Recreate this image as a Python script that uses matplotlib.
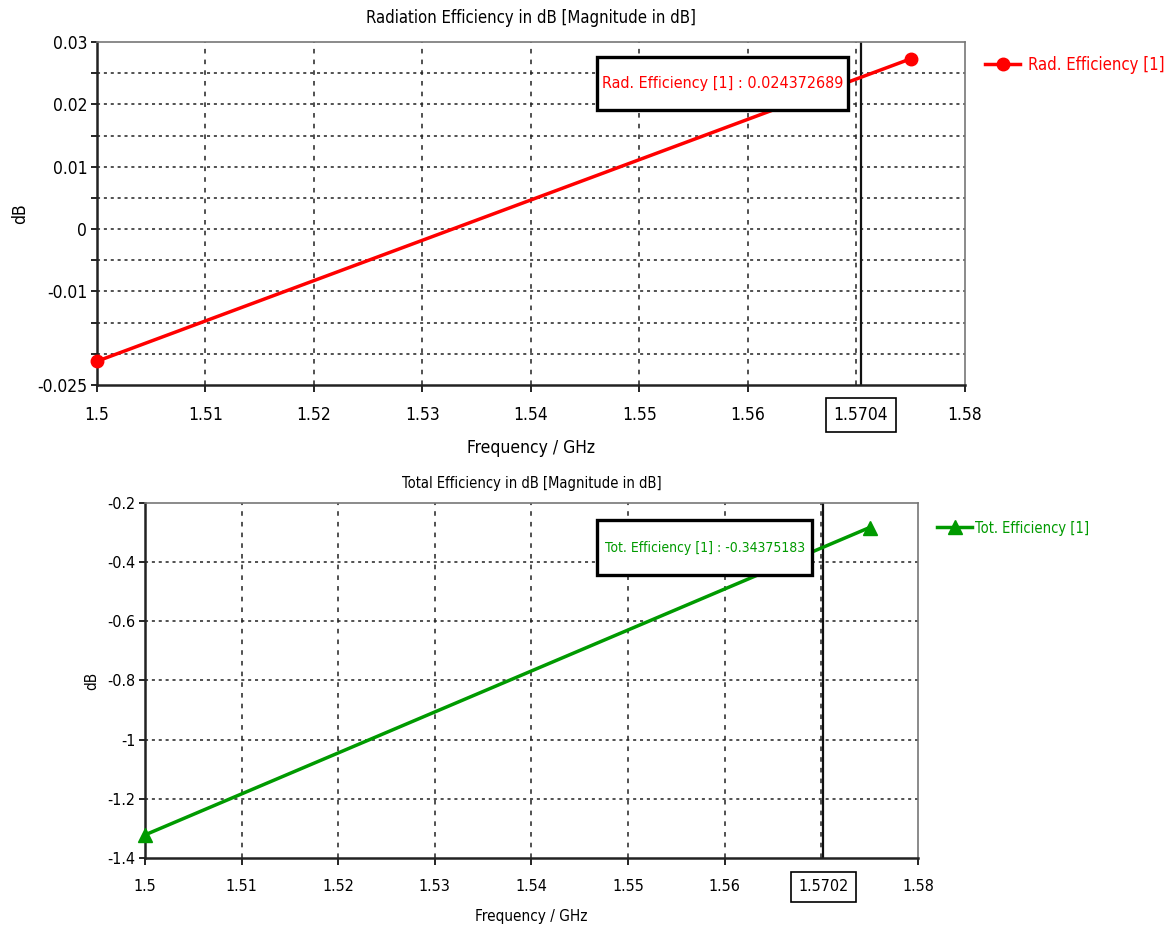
import numpy as np
import matplotlib
matplotlib.use("Agg")
import matplotlib.pyplot as plt
from matplotlib.patches import Rectangle
from matplotlib.ticker import MultipleLocator

plt.rcParams['font.family'] = ['DejaVu Sans']
plt.rcParams['font.stretch'] = 'condensed'

# data
freq = [1.5, 1.575]
rad_eff = [-0.0212, 0.0273]
tot_eff = [-1.322, -0.283]

rad_cursor = 1.5704
rad_cursor_val = "0.024372689"
tot_cursor = 1.5702
tot_cursor_val = "-0.34375183"

rad_yticks = [-0.025, -0.01, 0, 0.01, 0.02, 0.03]
rad_yticklabels = ["-0.025", "-0.01", "0", "0.01", "0.02", "0.03"]
tot_yticks = [-1.4, -1.2, -1.0, -0.8, -0.6, -0.4, -0.2]
tot_yticklabels = ["-1.4", "-1.2", "-1", "-0.8", "-0.6", "-0.4", "-0.2"]
xticks = [1.5, 1.51, 1.52, 1.53, 1.54, 1.55, 1.56, 1.58]
xticklabels = ["1.5", "1.51", "1.52", "1.53", "1.54", "1.55", "1.56", "1.58"]

RED = "#ff0000"
GREEN = "#009a00"

W, H = 1168, 938
fig = plt.figure(figsize=(W / 100, H / 100), dpi=100)
ax1 = fig.add_axes([0.083, 0.5896, 0.743, 0.3656])
ax2 = fig.add_axes([0.1241, 0.0853, 0.6618, 0.3785])


def style(ax, ylim, yticks, ylabels, ygrid_step, cursor, title, color, label, val,
          box, leg_px, fs, lab_off):
    tick_fs, title_fs, lab_fs, leg_fs, ann_fs, handle_len, htp = fs
    ax.set_xlim(1.5, 1.58)
    ax.set_ylim(*ylim)
    ax.set_xticks(xticks)
    ax.set_xticklabels(xticklabels, fontsize=tick_fs)
    ax.set_yticks(yticks)
    ax.set_yticklabels(ylabels, fontsize=tick_fs)
    ax.yaxis.set_minor_locator(MultipleLocator(ygrid_step))
    ax.tick_params(axis='y', which='both', direction='out', length=4, width=1.2, pad=3)
    ax.tick_params(axis='x', which='both', direction='out', length=5, width=1.2, pad=10)
    # grid
    for gx in np.arange(1.51, 1.5701, 0.01):
        ax.axvline(gx, color='#222222', lw=1.1, ls=(0, (3, 4)), zorder=1)
    gy = np.arange(ylim[0] + ygrid_step, ylim[1] - ygrid_step / 2, ygrid_step)
    for y in gy:
        ax.axhline(y, color='#222222', lw=1.1, ls=(0, (2, 2.5)), zorder=1)
    for s in ['left', 'bottom']:
        ax.spines[s].set_linewidth(1.8)
        ax.spines[s].set_color('#222222')
    for s in ['top', 'right']:
        ax.spines[s].set_linewidth(1.2)
        ax.spines[s].set_color('#777777')
    ax.axvline(cursor, color='#111111', lw=1.6, zorder=2)
    ax.set_xlabel("Frequency / GHz", fontsize=lab_fs, labelpad=11)
    ax.set_ylabel("dB", fontsize=lab_fs, labelpad=6)
    # cursor value on the frequency axis, boxed, level with the tick labels
    ax.annotate(f"{cursor:.4f}", xy=(cursor, 0), xycoords=('data', 'axes fraction'),
                xytext=(0, -lab_off), textcoords='offset pixels',
                ha='center', va='center', fontsize=tick_fs,
                bbox=dict(boxstyle='square,pad=0.45', fc='white', ec='black', lw=1.2))
    x0, y0, x1, y1 = box
    ax.add_patch(Rectangle((x0, y0), x1 - x0, y1 - y0, transform=ax.transAxes,
                           fc='white', ec='black', lw=2.4, zorder=6, clip_on=False))
    ax.text((x0 + x1) / 2, (y0 + y1) / 2, f"{label} : {val}", transform=ax.transAxes,
            ha='center', va='center', fontsize=ann_fs, color=color, zorder=7)
    ax.legend(loc='center left', bbox_to_anchor=(leg_px[0] / W, 1 - leg_px[1] / H),
              bbox_transform=fig.transFigure, frameon=False, borderpad=0,
              borderaxespad=0, fontsize=leg_fs, handlelength=handle_len,
              handletextpad=htp, labelcolor=color)
    ax.set_title(title, fontsize=title_fs, pad=14 if ax is ax1 else 11)


ax1.plot(freq, rad_eff, color=RED, lw=2.5, marker='o', ms=9, label="Rad. Efficiency [1]",
         zorder=5, clip_on=False)
style(ax1, (-0.025, 0.03), rad_yticks, rad_yticklabels, 0.005, rad_cursor,
      "Radiation Efficiency in dB [Magnitude in dB]", RED, "Rad. Efficiency [1]",
      rad_cursor_val, (0.576, 0.802, 0.866, 0.956), (985, 65),
      (12.5, 12, 12.5, 12, 11.5, 2.1, 0.5), 30)

ax2.plot(freq, tot_eff, color=GREEN, lw=2.5, marker='^', ms=10, label="Tot. Efficiency [1]",
         zorder=5, clip_on=False)
style(ax2, (-1.4, -0.2), tot_yticks, tot_yticklabels, 0.2, tot_cursor,
      "Total Efficiency in dB [Magnitude in dB]", GREEN, "Tot. Efficiency [1]",
      tot_cursor_val, (0.585, 0.797, 0.863, 0.952), (937, 528),
      (11.5, 10.5, 11, 10.5, 10, 2.4, 0.2), 29)

fig.savefig("out.png", dpi=100)
